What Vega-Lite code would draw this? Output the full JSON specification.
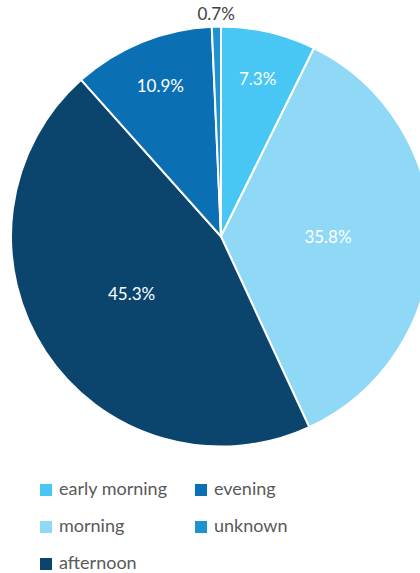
{
  "$schema": "https://vega.github.io/schema/vega-lite/v6.json",
  "width": 442,
  "height": 473,
  "autosize": {"type": "pad"},
  "padding": 0,
  "background": "white",
  "config": {"view": {"stroke": null}, "font": "Lato"},
  "data": {"values": [
    {"slot": "early morning", "value": 7.3, "label": "7.3%", "ord": 1},
    {"slot": "morning", "value": 35.8, "label": "35.8%", "ord": 2},
    {"slot": "afternoon", "value": 45.3, "label": "45.3%", "ord": 3},
    {"slot": "evening", "value": 10.9, "label": "10.9%", "ord": 4},
    {"slot": "unknown", "value": 0.7, "label": "0.7%", "ord": 5}
  ]},
  "encoding": {
    "theta": {"field": "value", "type": "quantitative", "stack": true},
    "order": {"field": "ord", "type": "quantitative", "sort": "ascending"}
  },
  "layer": [
    {
      "mark": {"type": "arc", "outerRadius": 210, "stroke": "white", "strokeWidth": 2},
      "encoding": {
        "color": {
          "field": "slot", "type": "nominal",
          "scale": {
            "domain": ["early morning", "evening", "morning", "unknown", "afternoon"],
            "range": ["#48C7F4", "#0B70B3", "#8FD9F6", "#1E93D1", "#0B456E"]
          },
          "legend": {
            "title": null,
            "orient": "none",
            "legendX": 37,
            "legendY": 481,
            "direction": "horizontal",
            "columns": 2,
            "symbolType": "square",
            "symbolSize": 144,
            "symbolStrokeWidth": 0,
            "labelFontSize": 18,
            "labelFont": "Lato",
            "labelColor": "#595959",
            "labelOffset": 4,
            "rowPadding": 19,
            "columnPadding": 24
          }
        }
      }
    },
    {
      "mark": {"type": "text", "radius": 107, "fontSize": 17, "color": "white", "font": "Lato"},
      "encoding": {
        "text": {"condition": {"test": "datum.value > 20", "field": "label"}, "value": ""}
      }
    },
    {
      "mark": {"type": "text", "radius": 161, "fontSize": 17, "color": "white", "font": "Lato"},
      "encoding": {
        "text": {"condition": {"test": "datum.value > 5 && datum.value < 20", "field": "label"}, "value": ""}
      }
    },
    {
      "mark": {"type": "text", "radius": 222, "fontSize": 17, "color": "#404040", "font": "Lato"},
      "encoding": {
        "text": {"condition": {"test": "datum.value < 1", "field": "label"}, "value": ""}
      }
    }
  ]
}
